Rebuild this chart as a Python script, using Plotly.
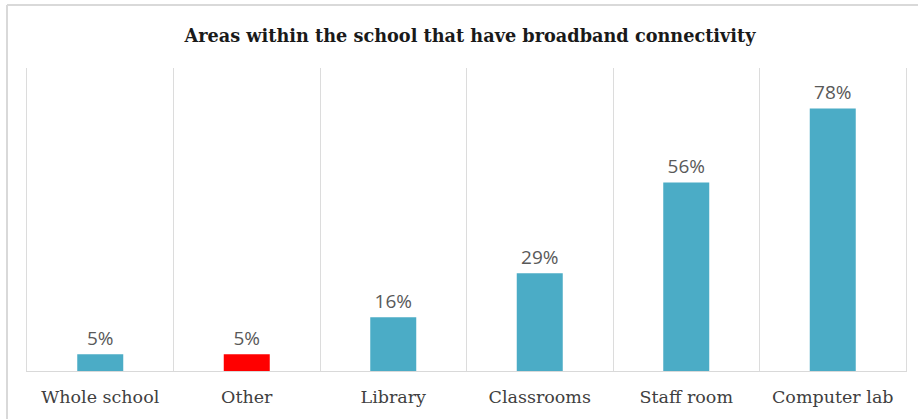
import plotly.graph_objects as go

# Share of schools reporting broadband in each area
areas = ["Whole school", "Other", "Library", "Classrooms", "Staff room", "Computer lab"]
shares = [5, 5, 16, 29, 56, 78]
bar_colors = ["#4BACC6", "#FF0000", "#4BACC6", "#4BACC6", "#4BACC6", "#4BACC6"]
value_labels = [f"{v}%" for v in shares]

fig = go.Figure(
    go.Bar(
        x=areas,
        y=shares,
        marker=dict(color=bar_colors, line=dict(width=0)),
        text=value_labels,
        textposition="outside",
        textfont=dict(family="Open Sans", size=19, color="#595959"),
        cliponaxis=False,
    )
)

fig.update_layout(
    width=918,
    height=419,
    margin=dict(l=27, r=12, t=68, b=48),
    paper_bgcolor="white",
    plot_bgcolor="white",
    bargap=0.686,
    showlegend=False,
    title=dict(
        text="<b>Areas within the school that have broadband connectivity</b>",
        font=dict(family="DejaVu Serif", size=17.7, color="#1a1a1a"),
        x=470 / 918,
        xanchor="center",
        y=1 - 36 / 419,
        yanchor="middle",
    ),
    xaxis=dict(
        type="category",
        tickson="boundaries",
        showgrid=True,
        gridcolor="#dcdcdc",
        gridwidth=1,
        showline=True,
        linecolor="#d9d9d9",
        linewidth=1,
        mirror=False,
        ticks="",
        tickfont=dict(family="DejaVu Serif", size=17.5, color="#404040"),
        ticklabelstandoff=10,
    ),
    yaxis=dict(
        range=[0, 90],
        showticklabels=False,
        showgrid=False,
        zeroline=False,
        showline=True,
        linecolor="#dcdcdc",
        linewidth=1,
        mirror=True,
    ),
    shapes=[
        # outer chart frame (top and left edges)
        dict(type="line", xref="paper", yref="paper",
             x0=-20 / 879, x1=1.05, y0=366 / 303, y1=366 / 303,
             line=dict(color="#d9d9d9", width=2)),
        dict(type="line", xref="paper", yref="paper",
             x0=-20 / 879, x1=-20 / 879, y0=-0.2, y1=366 / 303,
             line=dict(color="#d9d9d9", width=2)),
    ],
)

fig.write_html("out.html")
